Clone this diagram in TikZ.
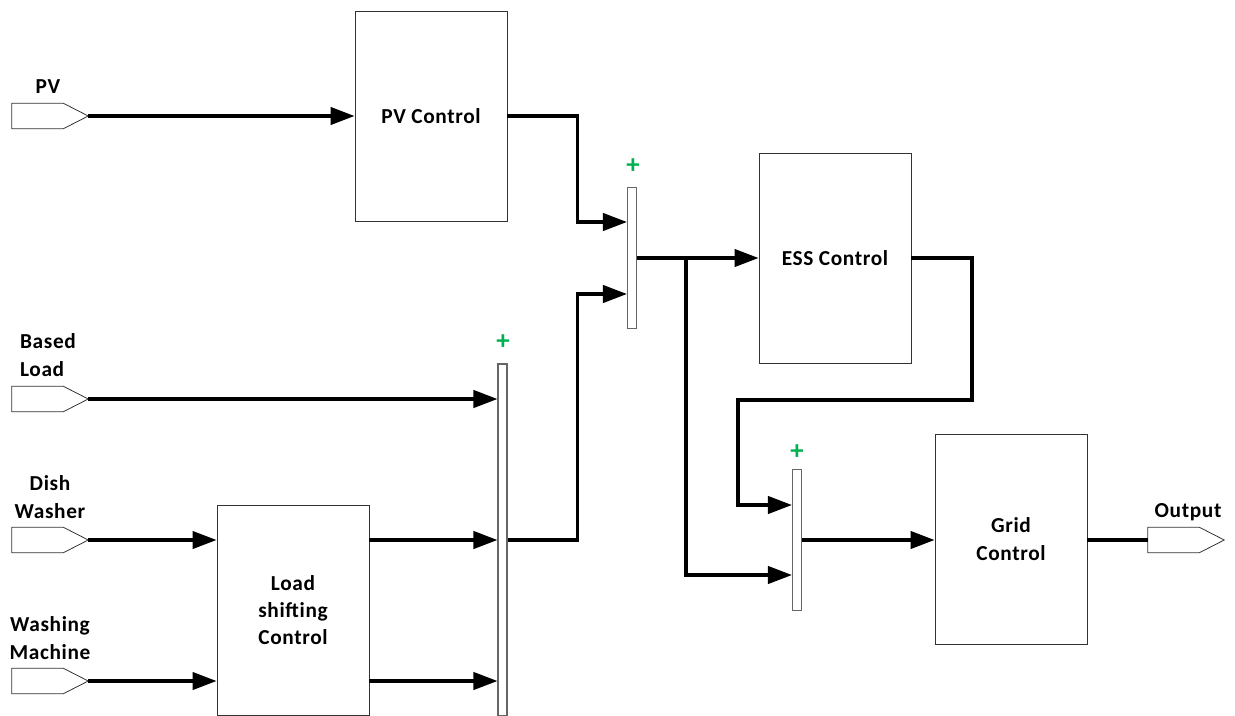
\documentclass[tikz,border=0pt]{standalone}
\usepackage{fontspec}
\setmainfont{Carlito}[LetterSpace=3]
\usetikzlibrary{positioning, arrows.meta}
\definecolor{plusgreen}{RGB}{0,176,80}

\begin{document}
\begin{tikzpicture}[
    x=0.75pt, y=-0.75pt,
    every node/.style={font=\fontsize{16}{20.5}\selectfont\bfseries},
    block/.style={draw=black!80, line width=0.7pt, minimum width=114pt, minimum height=157.5pt, align=center, inner sep=0pt},
    summer/.style={draw=black!60, line width=0.8pt, minimum width=6.75pt, inner sep=0pt},
    port/.style={minimum width=57pt, minimum height=18.75pt, inner sep=0pt},
    portline/.style={draw=black!80, line width=0.6pt},
    flow/.style={line width=2.4pt, -{Triangle[length=18pt, width=13pt]}},
    wire/.style={line width=2.4pt},
    plus/.style={text=plusgreen, font=\fontsize{20}{20}\selectfont\bfseries},
]
\useasboundingbox (0,0) rectangle (1235,715);
\clip (0,0) rectangle (1235,715);

% Wejscia
\node[port] (pv) at (50,116) {};
\node[port] (base) at (50,399) {};
\node[port] (dish) at (50,540) {};
\node[port] (wash) at (50,681) {};
\node[port] (out) at (1186,540) {};
\foreach \p in {pv,base,dish,wash,out}
    \draw[portline] (\p.north west) -- ([xshift=-18.75pt]\p.north east) -- (\p.east)
        -- ([xshift=-18.75pt]\p.south east) -- (\p.south west) -- cycle;

\node (pvlab) at (48,87) {PV};
\node[align=left] (baselab) at (48,355) {Based\\Load};
\node[align=center] (dishlab) at (50,497) {Dish\\Washer};
\node[align=center] (washlab) at (50,638) {Washing\\Machine};
\node (outlab) at (1188,512) {Output};

% Bloki
\node[block] (pvc) at (431,116) {PV Control};
\node[block] (ess) at (835,258) {ESS Control};
\node[block] (grid) at (1011,539) {Grid\\Control};
\node[block] (lsc) at (293,610) {Load\\shifting\\Control};

% Sumatory
\node[summer, minimum height=105.75pt] (sum1) at (632,258) {};
\node[summer, minimum height=264pt] (sum2) at (502.5,540) {};
\node[summer, minimum height=105.75pt] (sum3) at (797,540) {};
\node[plus] (p1) at (633,166) {+};
\node[plus] (p2) at (503,342) {+};
\node[plus] (p3) at (797,452) {+};

\coordinate (br) at (686,258);
\coordinate (r1) at (972,400);
\coordinate (l1) at (738,505);

% Linie
\draw[flow] (pv.east) -- (pv.east -| pvc.west);
\draw[flow] (base.east) -- (base.east -| sum2.west);
\draw[flow] (dish.east) -- (dish.east -| lsc.west);
\draw[flow] (wash.east) -- (wash.east -| lsc.west);
\draw[flow] (dish.east -| lsc.east) -- (dish.east -| sum2.west);
\draw[flow] (wash.east -| lsc.east) -- (wash.east -| sum2.west);
\draw[flow] (pvc.east) -- ++(70,0) |- ([yshift=27pt]sum1.west);
\draw[flow] (sum2.east) -- ++(70,0) |- ([yshift=-27pt]sum1.west);
\draw[flow] (sum1.east) -- (ess.west);
\draw[flow] (br) |- ([yshift=-26.25pt]sum3.west);
\draw[flow] (ess.east) -| (r1) -| (l1) -- (l1 -| sum3.west);
\draw[flow] (sum3.east) -- (sum3.east -| grid.west);
\draw[wire] (sum3.east -| grid.east) -- (out.west);

\end{tikzpicture}
\end{document}
